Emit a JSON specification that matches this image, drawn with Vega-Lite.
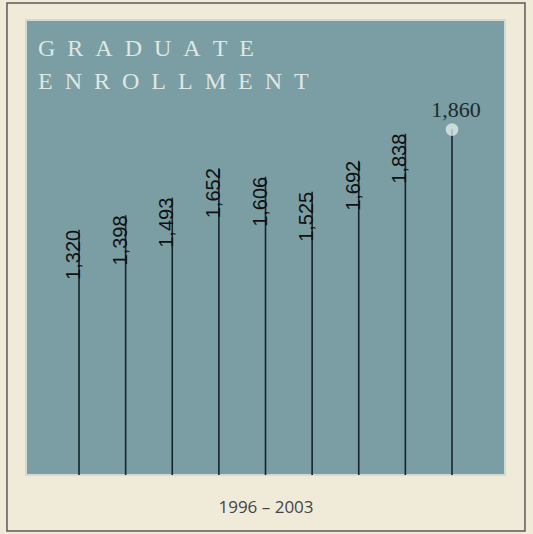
{
  "$schema": "https://vega.github.io/schema/vega-lite/v6.json",
  "width": 479,
  "height": 455,
  "autosize": {"type": "none"},
  "padding": {"left": 26, "top": 20, "right": 28, "bottom": 59},
  "background": "#f0ebd8",
  "config": {
    "view": {"fill": "#7a9ea4", "stroke": "#d3dad3", "strokeWidth": 2}
  },
  "title": {
    "text": ["G\u2002R\u2002A\u2002D\u2002U\u2002A\u2002T\u2002E", "E\u2002N\u2002R\u2002O\u2002L\u2002L\u2002M\u2002E\u2002N\u2002T"],
    "orient": "top",
    "anchor": "start",
    "frame": "group",
    "font": "Liberation Serif",
    "fontSize": 24,
    "fontWeight": "normal",
    "color": "#dfe7e3",
    "opacity": 0.85,
    "lineHeight": 33,
    "dx": 12,
    "offset": -92
  },
  "datasets": {
    "enrollment": [
      {"year": 1995, "students": 1320},
      {"year": 1996, "students": 1398},
      {"year": 1997, "students": 1493},
      {"year": 1998, "students": 1652},
      {"year": 1999, "students": 1606},
      {"year": 2000, "students": 1525},
      {"year": 2001, "students": 1692},
      {"year": 2002, "students": 1838},
      {"year": 2003, "students": 1860}
    ]
  },
  "data": {"name": "enrollment"},
  "layer": [
    {
      "data": {"values": [{"frame": 1}]},
      "mark": {"type": "rect", "fill": "#f0ebd8", "fillOpacity": 0, "stroke": "#5a5a55", "strokeWidth": 1.5, "clip": false},
      "encoding": {
        "x": {
          "datum": 1993.455, "type": "quantitative",
          "scale": {"domain": [1993.863, 2004.137], "nice": false, "zero": false},
          "axis": {
            "title": "1996 – 2003", "labels": false, "ticks": false, "domain": false, "grid": false,
            "titleFont": "Open Sans", "titleFontSize": 17, "titleFontWeight": "normal",
            "titleColor": "#444444", "titlePadding": 24
          }
        },
        "x2": {"datum": 2004.565},
        "y": {"datum": 2541, "type": "quantitative", "scale": {"domain": [0, 2450], "nice": false, "zero": false}, "axis": null},
        "y2": {"datum": -301}
      }
    },
    {
      "mark": {"type": "rule", "color": "#15252a", "strokeWidth": 1.6},
      "encoding": {
        "x": {
          "field": "year", "type": "quantitative",
          "axis": {
            "title": "1996 – 2003", "labels": false, "ticks": false, "domain": false, "grid": false,
            "titleFont": "Open Sans", "titleFontSize": 17, "titleFontWeight": "normal",
            "titleColor": "#444444", "titlePadding": 24
          }
        },
        "y": {"field": "students", "type": "quantitative", "axis": null},
        "y2": {"datum": 0}
      }
    },
    {
      "transform": [{"filter": "datum.year < 2003"}],
      "mark": {"type": "text", "angle": 270, "align": "right", "baseline": "alphabetic", "font": "Liberation Sans", "fontSize": 20, "color": "#111111", "dy": 1},
      "encoding": {
        "x": {"field": "year", "type": "quantitative"},
        "y": {"field": "students", "type": "quantitative"},
        "text": {"field": "students", "type": "quantitative", "format": ",d"}
      }
    },
    {
      "transform": [{"filter": "datum.year == 2003"}],
      "mark": {"type": "point", "shape": "circle", "filled": true, "color": "#eef3f1", "opacity": 0.7, "size": 160},
      "encoding": {
        "x": {"field": "year", "type": "quantitative"},
        "y": {"field": "students", "type": "quantitative"}
      }
    },
    {
      "transform": [{"filter": "datum.year == 2003"}],
      "mark": {"type": "text", "align": "center", "baseline": "alphabetic", "font": "Liberation Serif", "fontSize": 22, "color": "#1d2a2c", "dx": 4, "dy": -13},
      "encoding": {
        "x": {"field": "year", "type": "quantitative"},
        "y": {"field": "students", "type": "quantitative"},
        "text": {"field": "students", "type": "quantitative", "format": ",d"}
      }
    }
  ]
}
